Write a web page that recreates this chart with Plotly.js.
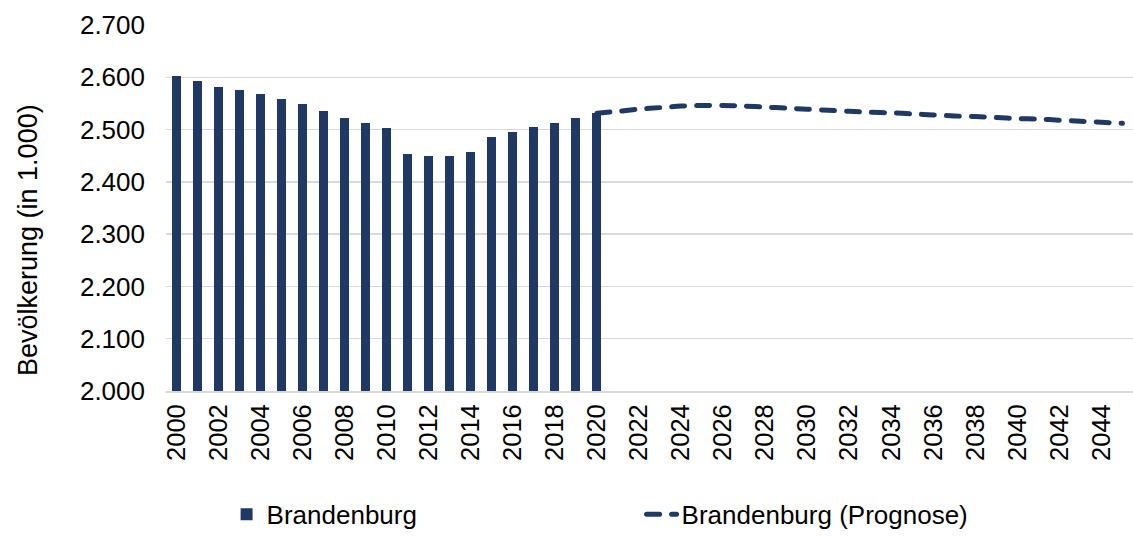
<!DOCTYPE html>
<html>
<head>
<meta charset="utf-8">
<script src="https://cdn.plot.ly/plotly-3.0.1.min.js"></script>
<style>
  html, body { margin: 0; padding: 0; background: #fff; }
  #chart { width: 1133px; height: 537px; }
  .js-line { stroke-linecap: round; }
</style>
</head>
<body>
<div id="chart"></div>
<script>
// Historical population (in 1,000)
const yearsHist = [2000, 2001, 2002, 2003, 2004, 2005, 2006, 2007, 2008, 2009, 2010,
                   2011, 2012, 2013, 2014, 2015, 2016, 2017, 2018, 2019, 2020];
const popHist = [2602, 2593, 2582, 2575, 2568, 2559, 2548, 2536, 2522, 2512, 2503,
                 2453, 2449, 2449, 2458, 2485, 2495, 2504, 2512, 2522, 2531];

// Projection (in 1,000)
const yearsProg = [2020, 2021, 2022, 2023, 2024, 2025, 2026, 2027, 2028, 2029, 2030,
                   2031, 2032, 2033, 2034, 2035, 2036, 2037, 2038, 2039, 2040,
                   2041, 2042, 2043, 2044, 2045];
const popProg = [2531, 2535, 2539, 2542, 2545, 2546, 2546, 2545, 2543, 2541, 2539,
                 2537, 2535, 2533, 2532, 2530, 2528, 2526, 2525, 2523, 2521,
                 2520, 2518, 2516, 2514, 2512];

const seriesNames = ['Brandenburg', 'Brandenburg (Prognose)'];
const yTitle = 'Bevölkerung (in 1.000)';

const navy = '#1f3864';
const font = "'Liberation Sans', Arial, sans-serif";

const traces = [
  {
    type: 'bar',
    x: yearsHist,
    y: popHist,
    name: seriesNames[0],
    width: 0.43,
    marker: { color: navy, line: { width: 0 } },
    hoverinfo: 'x+y'
  },
  {
    type: 'scatter',
    mode: 'lines',
    x: yearsProg,
    y: popProg,
    name: seriesNames[1],
    line: { color: navy, width: 5, dash: '13px,12px', shape: 'spline', smoothing: 0.8 },
    hoverinfo: 'x+y'
  }
];

const layout = {
  width: 1133,
  height: 537,
  margin: { l: 166, r: 0, t: 25, b: 146, autoexpand: false },
  paper_bgcolor: '#ffffff',
  plot_bgcolor: '#ffffff',
  separators: ',.',
  font: { family: font, size: 26, color: '#000000' },
  showlegend: true,
  bargap: 0,
  xaxis: {
    range: [1999.5, 2045.5],
    tickmode: 'linear',
    tick0: 2000,
    dtick: 2,
    tickformat: 'd',
    tickangle: -90,
    showgrid: false,
    zeroline: false,
    showline: true,
    linecolor: '#d9d9d9',
    linewidth: 2,
    ticks: '',
    ticklabelstandoff: 1,
    automargin: false,
    tickfont: { family: font, size: 25.5, color: '#000000' },
    fixedrange: true
  },
  yaxis: {
    range: [2000, 2700],
    tickmode: 'linear',
    tick0: 2000,
    dtick: 100,
    tickformat: ',d',
    showgrid: true,
    gridcolor: '#d9d9d9',
    gridwidth: 1.5,
    zeroline: false,
    showline: false,
    ticks: '',
    ticklabelstandoff: 20,
    automargin: false,
    tickfont: { family: font, size: 26, color: '#000000' },
    fixedrange: true
  },
  legend: {
    orientation: 'h',
    xref: 'container',
    yref: 'container',
    x: 0.2,
    xanchor: 'left',
    y: 0.042,
    yanchor: 'middle',
    entrywidth: 370,
    entrywidthmode: 'pixels',
    font: { family: font, size: 26, color: '#000000' },
    bgcolor: 'rgba(0,0,0,0)',
    traceorder: 'normal'
  },
  annotations: [
    {
      text: yTitle,
      xref: 'paper',
      yref: 'paper',
      x: -0.1427,
      y: 0.4126,
      xanchor: 'center',
      yanchor: 'middle',
      textangle: -90,
      showarrow: false,
      font: { family: font, size: 27, color: '#000000' }
    }
  ]
};

Plotly.newPlot('chart', traces, layout, { displayModeBar: false, staticPlot: true });
</script>
</body>
</html>
